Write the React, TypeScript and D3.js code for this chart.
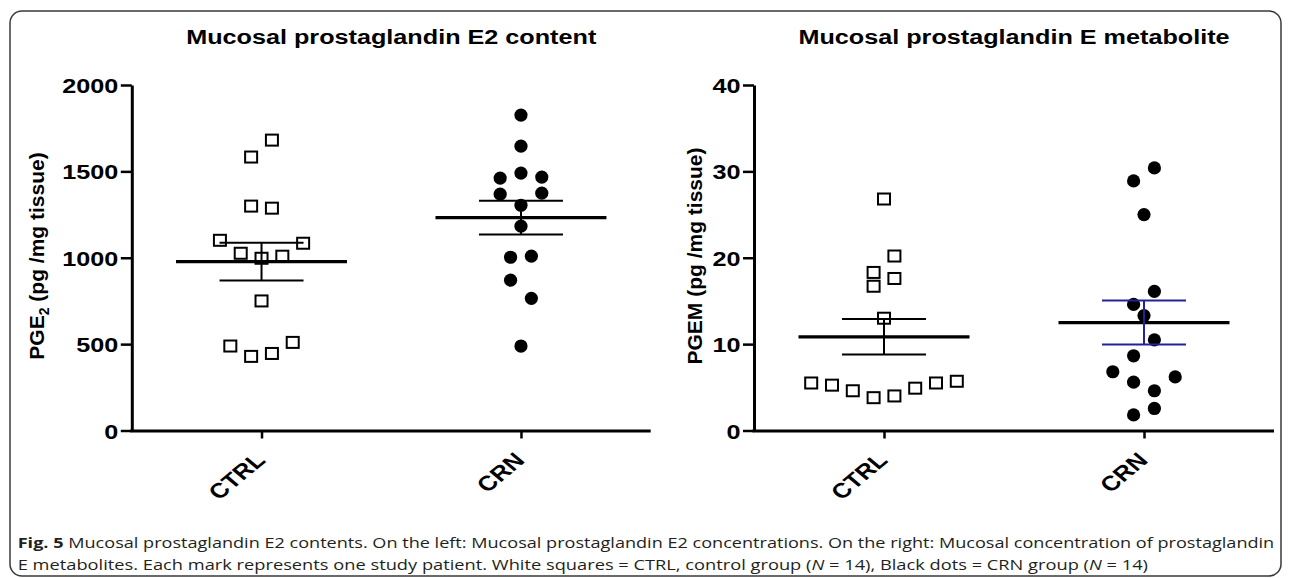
import React, { useEffect, useRef } from 'react';
import * as d3 from 'd3';

// groups on the x axis
const groups = ['CTRL', 'CRN'];

// PGE2 content, pg/mg tissue (left panel)
const pgeCtrl = [1583, 1681, 1299, 1287, 1101, 1026, 997, 1009, 1084, 750, 489, 429, 446, 510];
const pgeCrn = [1826, 1646, 1461, 1490, 1467, 1368, 1304, 1374, 1183, 1003, 1009, 870, 765, 489];
const pgeTicks = [0, 500, 1000, 1500, 2000];

// PGEM, pg/mg tissue (right panel)
const pgemCtrl = [26.8, 18.3, 20.2, 16.7, 17.6, 13.0, 5.5, 5.25, 4.6, 3.8, 4.0, 4.9, 5.5, 5.7];
const pgemCrn = [28.9, 30.4, 25.0, 14.6, 16.1, 13.3, 8.65, 10.5, 6.8, 5.6, 4.6, 6.2, 1.8, 2.55];
const pgemTicks = [0, 10, 20, 30, 40];

const captionLine1 = ' Mucosal prostaglandin E2 contents. On the left: Mucosal prostaglandin E2 concentrations. On the right: Mucosal concentration of prostaglandin';
const captionLine2 = ['E metabolites. Each mark represents one study patient. White squares = CTRL, control group (', ' = 14), Black dots = CRN group (', ' = 14)'];

const FONT = '"Liberation Sans", Arial, sans-serif';
const SX = 1.2; // the figure text is a bit wide
const TOP = 85;
const BOTTOM = 430.5;
const SLOT = 20.8;
const ROW = 19.5;

// graphpad-ish scatter: points close in y share a row, spread around the group centre
function swarm(values, y) {
	const order = d3.range(values.length).sort((a, b) => values[b] - values[a]);
	const offs = new Array(values.length).fill(0);
	let row = [];
	let startY = null;
	const flush = () => {
		row.sort((a, b) => a - b);
		row.forEach((idx, i) => { offs[idx] = (i - (row.length - 1) / 2) * SLOT; });
	};
	order.forEach(idx => {
		const py = y(values[idx]);
		if (startY === null || py - startY >= ROW) {
			if (row.length) flush();
			row = [idx];
			startY = py;
		} else row.push(idx);
	});
	if (row.length) flush();
	return offs;
}

function drawPanel(svg, p) {
	const y = d3.scaleLinear().domain([0, p.max]).range([BOTTOM, TOP]);
	const x = d3.scalePoint().domain(groups).range([p.x0, p.x1]).padding(0.5);
	const g = svg.append('g');

	// title
	g.append('text')
		.attr('transform', `translate(${(p.x0 + p.x1) / 2},44) scale(${SX},1)`)
		.attr('text-anchor', 'middle')
		.attr('font-family', FONT).attr('font-size', 21).attr('font-weight', 'bold')
		.text(p.title);

	// y axis
	const ya = g.append('g').attr('transform', `translate(${p.x0},0)`)
		.call(d3.axisLeft(y).tickValues(p.ticks).tickFormat(d3.format('d')).tickSize(11).tickSizeOuter(0));
	ya.attr('font-family', FONT).attr('font-size', 21).attr('font-weight', 'bold');
	ya.select('.domain').attr('stroke', '#000').attr('stroke-width', 3);
	ya.selectAll('.tick line').attr('stroke', '#000').attr('stroke-width', 2.5);
	ya.selectAll('.tick text').attr('fill', '#000')
		.attr('x', -13.5 / SX).attr('dy', '0.36em')
		.attr('transform', `scale(${SX},1)`);

	// y label
	const yl = g.append('text')
		.attr('transform', `translate(${p.labelX},256) rotate(-90)`)
		.attr('text-anchor', 'middle')
		.attr('font-family', FONT).attr('font-size', 21).attr('font-weight', 'bold');
	p.label.forEach(part => {
		const t = yl.append('tspan').text(part.text);
		if (part.sub) t.attr('font-size', 14).attr('dy', 5);
		if (part.after) t.attr('dy', -5);
	});

	// x axis
	const xa = g.append('g').attr('transform', `translate(0,${BOTTOM})`)
		.call(d3.axisBottom(x).tickSize(8).tickSizeOuter(0).tickFormat(() => ''));
	xa.select('.domain').attr('stroke', '#000').attr('stroke-width', 3)
		.attr('d', `M${p.x0 - 1.5},0.5H${p.x1}`);
	xa.selectAll('.tick line').attr('stroke', '#000').attr('stroke-width', 2.5);

	groups.forEach(name => {
		g.append('text')
			.attr('transform', `translate(${x(name) + 5},${BOTTOM + 31}) scale(${SX},1) rotate(-45)`)
			.attr('text-anchor', 'end')
			.attr('font-family', FONT).attr('font-size', 21).attr('font-weight', 'bold')
			.text(name);
	});

	// points
	const ctrlOff = swarm(p.ctrl, y);
	g.append('g').selectAll('rect').data(p.ctrl).enter().append('rect')
		.attr('x', (d, i) => x('CTRL') + ctrlOff[i] - 6)
		.attr('y', d => y(d) - 5.5)
		.attr('width', 12).attr('height', 11)
		.attr('fill', '#fff').attr('stroke', '#000').attr('stroke-width', 2);

	const crnOff = swarm(p.crn, y);
	g.append('g').selectAll('circle').data(p.crn).enter().append('circle')
		.attr('cx', (d, i) => x('CRN') + crnOff[i])
		.attr('cy', d => y(d))
		.attr('r', 6.6)
		.attr('fill', '#000');

	// mean and SEM
	[[p.ctrl, 'CTRL'], [p.crn, 'CRN']].forEach(([vals, name]) => {
		const m = d3.mean(vals);
		const sem = d3.deviation(vals) / Math.sqrt(vals.length);
		const cx = x(name);
		const col = p.errColor[name];
		g.append('line').attr('x1', cx - 85.5).attr('x2', cx + 85.5)
			.attr('y1', y(m)).attr('y2', y(m))
			.attr('stroke', '#000').attr('stroke-width', 3.2);
		g.append('line').attr('x1', cx).attr('x2', cx)
			.attr('y1', y(m + sem)).attr('y2', y(m - sem))
			.attr('stroke', col).attr('stroke-width', 2);
		[m + sem, m - sem].forEach(v => {
			g.append('line').attr('x1', cx - 42).attr('x2', cx + 42)
				.attr('y1', y(v)).attr('y2', y(v))
				.attr('stroke', col).attr('stroke-width', 2);
		});
	});
}

export default function App() {
	const ref = useRef(null);

	useEffect(() => {
		const svg = d3.select(ref.current);
		svg.selectAll('*').remove();

		svg.append('rect')
			.attr('x', 10).attr('y', 11).attr('width', 1271).attr('height', 565).attr('rx', 12)
			.attr('fill', 'none').attr('stroke', '#3a3a3a').attr('stroke-width', 1.5);

		drawPanel(svg, {
			x0: 131.8, x1: 650.7, max: 2000, ticks: pgeTicks,
			title: 'Mucosal prostaglandin E2 content',
			label: [{ text: 'PGE' }, { text: '2', sub: true }, { text: ' (pg /mg tissue)', after: true }],
			labelX: 44,
			ctrl: pgeCtrl, crn: pgeCrn,
			errColor: { CTRL: '#000', CRN: '#000' },
		});
		drawPanel(svg, {
			x0: 754, x1: 1274, max: 40, ticks: pgemTicks,
			title: 'Mucosal prostaglandin E metabolite',
			label: [{ text: 'PGEM (pg /mg tissue)' }],
			labelX: 702,
			ctrl: pgemCtrl, crn: pgemCrn,
			errColor: { CTRL: '#000', CRN: '#22229a' },
		});

		// caption, fitted to the line widths of the figure
		const cap = svg.append('g').attr('font-family', '"Open Sans", sans-serif').attr('font-size', 15).attr('fill', '#231f20');
		const l1 = cap.append('text');
		l1.append('tspan').attr('font-weight', 'bold').text('Fig. 5');
		l1.append('tspan').text(captionLine1);
		const l2 = cap.append('text');
		l2.append('tspan').text(captionLine2[0]);
		l2.append('tspan').attr('font-style', 'italic').text('N');
		l2.append('tspan').text(captionLine2[1]);
		l2.append('tspan').attr('font-style', 'italic').text('N');
		l2.append('tspan').text(captionLine2[2]);
		[[l1, 548, 1257], [l2, 570, 1131]].forEach(([t, by, w]) => {
			const len = t.node().getComputedTextLength();
			t.attr('transform', `translate(17.7,${by}) scale(${w / len},1)`);
		});
	}, []);

	return (
		<svg
			ref={ref}
			width={1290}
			height={578}
			style={{ position: 'absolute', left: 0, top: 0, background: '#fff' }}
		/>
	);
}
